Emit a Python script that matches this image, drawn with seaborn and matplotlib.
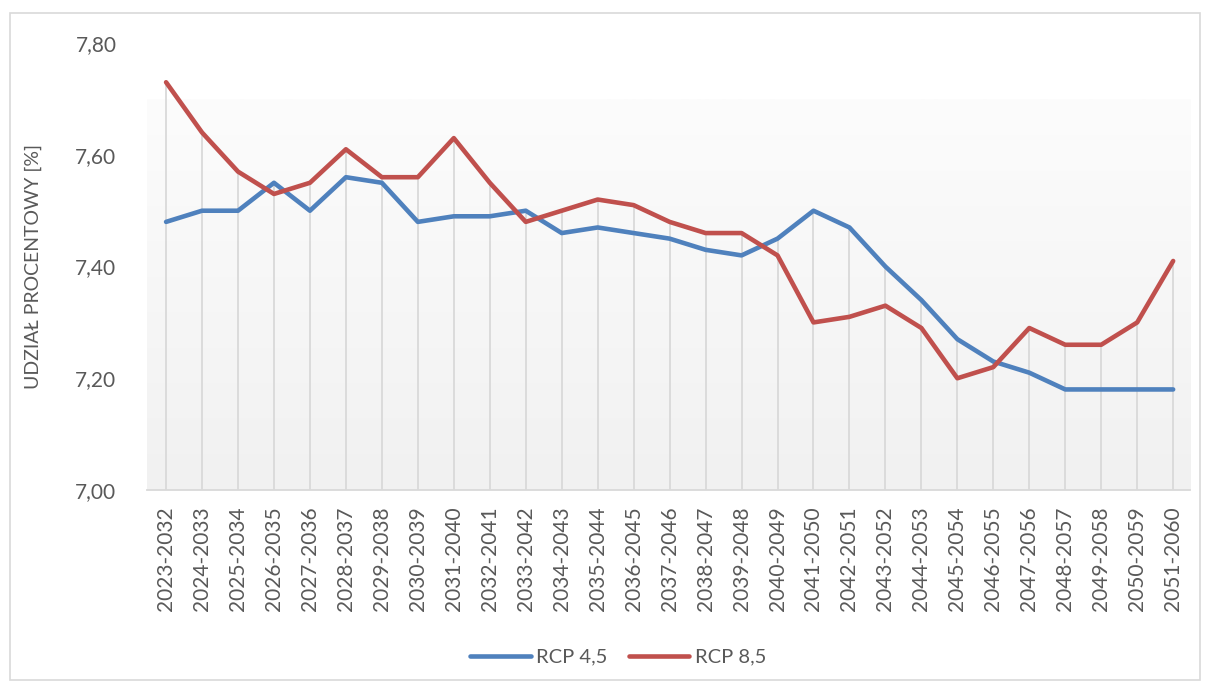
import numpy as np
import pandas as pd
import matplotlib
matplotlib.use("Agg")
import matplotlib.pyplot as plt
import seaborn as sns
from matplotlib.ticker import FuncFormatter

periods = [f"{y}-{y + 9}" for y in range(2023, 2052)]
rcp45 = [7.48, 7.50, 7.50, 7.55, 7.50, 7.56, 7.55, 7.48, 7.49, 7.49,
         7.50, 7.46, 7.47, 7.46, 7.45, 7.43, 7.42, 7.45, 7.50, 7.47,
         7.40, 7.34, 7.27, 7.23, 7.21, 7.18, 7.18, 7.18, 7.18]
rcp85 = [7.73, 7.64, 7.57, 7.53, 7.55, 7.61, 7.56, 7.56, 7.63, 7.55,
         7.48, 7.50, 7.52, 7.51, 7.48, 7.46, 7.46, 7.42, 7.30, 7.31,
         7.33, 7.29, 7.20, 7.22, 7.29, 7.26, 7.26, 7.30, 7.41]
series_names = ["RCP 4,5", "RCP 8,5"]
y_ticks = [7.00, 7.20, 7.40, 7.60, 7.80]

df = pd.DataFrame({
    "okres": periods * 2,
    "udzial": rcp45 + rcp85,
    "scenariusz": [series_names[0]] * len(periods) + [series_names[1]] * len(periods),
})

sns.set_theme(style="white")
plt.rcParams["font.family"] = ["Lato", "DejaVu Sans"]
text_color = "#595959"

fig = plt.figure(figsize=(12.05, 6.85), dpi=100)
ax = fig.add_axes([0.122, 0.2847, 0.8656, 0.6523])

# soft vertical gradient in the inner plot area (darker towards the bottom)
grad = np.linspace(0.0, 1.0, 256).reshape(-1, 1)
ax.imshow(grad, cmap=matplotlib.colors.LinearSegmentedColormap.from_list(
    "bg", ["#f1f1f1", "#fcfcfc"]), aspect="auto",
    extent=(-0.53, 28.47, 7.0, 7.70), origin="lower", zorder=0, vmin=0, vmax=1)

# drop lines from the higher of the two series down to the axis
x_pos = np.arange(len(periods))
tops = np.maximum(rcp45, rcp85)
ax.vlines(x_pos, 7.0, tops, color="#d9d9d9", lw=1.3, zorder=1)

sns.lineplot(data=df, x="okres", y="udzial", hue="scenariusz",
             palette=["#4f81bd", "#c0504d"], linewidth=3.3, ax=ax,
             sort=False, zorder=3)

ax.set_xlim(-0.53, 28.47)
ax.set_ylim(7.0, 7.80)
ax.set_yticks(y_ticks)
ax.yaxis.set_major_formatter(FuncFormatter(lambda v, p: f"{v:.2f}".replace(".", ",")))
ax.set_xticks(x_pos)
ax.set_xticklabels(periods, rotation=90)
ax.tick_params(axis="both", colors=text_color, labelsize=15, length=0)
ax.tick_params(axis="x", pad=12)
ax.tick_params(axis="y", pad=22)
for lab in ax.get_xticklabels() + ax.get_yticklabels():
    lab.set_color(text_color)

for side in ["top", "right", "left"]:
    ax.spines[side].set_visible(False)
ax.spines["bottom"].set_color("#d9d9d9")
ax.spines["bottom"].set_linewidth(1.3)

ax.set_xlabel("")
ax.set_ylabel("UDZIAŁ PROCENTOWY [%]", color=text_color, fontsize=14, labelpad=24)
ax.set_facecolor("white")

leg = ax.legend(loc="center", ncol=2, frameon=False, fontsize=14.5,
                handlelength=3.0, columnspacing=1.1, handletextpad=0.25)
leg.set_bbox_to_anchor((618 / 1205, 1 - 657 / 685), transform=fig.transFigure)
for t in leg.get_texts():
    t.set_color(text_color)

# outer chart border
border = plt.Rectangle((10 / 1205, 5 / 685), 1190 / 1205, 667 / 685,
                       transform=fig.transFigure, fill=False,
                       edgecolor="#d9d9d9", lw=1.2)
fig.patches.append(border)

fig.savefig("out.png", dpi=100)
